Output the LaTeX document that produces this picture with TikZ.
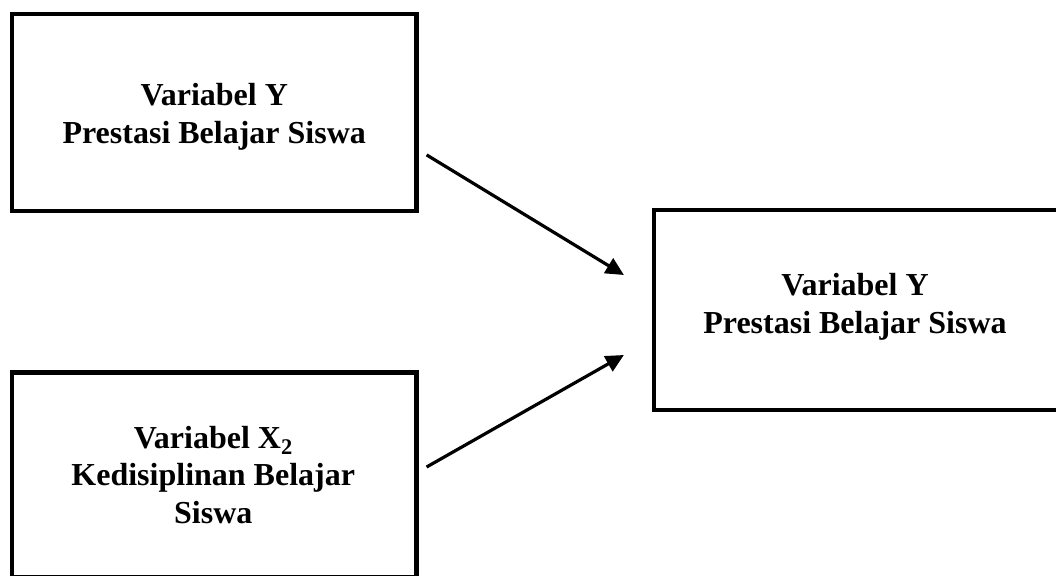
\documentclass[tikz,border=0pt]{standalone}
\usepackage{fontspec}
\setmainfont{Liberation Serif}
\usetikzlibrary{arrows.meta,calc}
\begin{document}
\begin{tikzpicture}[x=1pt,y=-1pt,
  varbox/.style={draw=black,line width=4.2pt,minimum width=404.5pt,inner sep=0pt},
  lbl/.style={align=center,font=\fontsize{32}{37.5}\selectfont\bfseries,
    inner sep=0pt,text height=0pt,text depth=0pt},
  link/.style={line width=3.2pt,-{Triangle[length=18pt,width=17pt]}}]
\useasboundingbox (0,0) rectangle (1056,575);
\clip (0,0) rectangle (1056,575);
\node[varbox,minimum height=197.5pt] (y1) at (214.25,112.4) {};
\node[varbox,minimum height=205pt] (x2) at (214.25,475) {};
\node[varbox,minimum height=200pt,minimum width=404pt] (yr) at (856,310) {};
\node[lbl] (t1) at ($(y1.center)+(0,30.8)$) {Variabel Y\\Prestasi Belajar Siswa};
\node[lbl] (t2) at ($(x2.center)+(-1,48)$) {Variabel X\textsubscript{2}\\Kedisiplinan Belajar\\Siswa};
\node[lbl] (t3) at ($(yr.center)+(-1,23)$) {Variabel Y\\Prestasi Belajar Siswa};
\draw[link] ($(y1.east)+(8,42.5)$) -- ($(yr.west)+(-28,-35)$);
\draw[link] ($(x2.east)+(8,-8)$) -- ($(yr.west)+(-28,45)$);
\end{tikzpicture}
\end{document}
